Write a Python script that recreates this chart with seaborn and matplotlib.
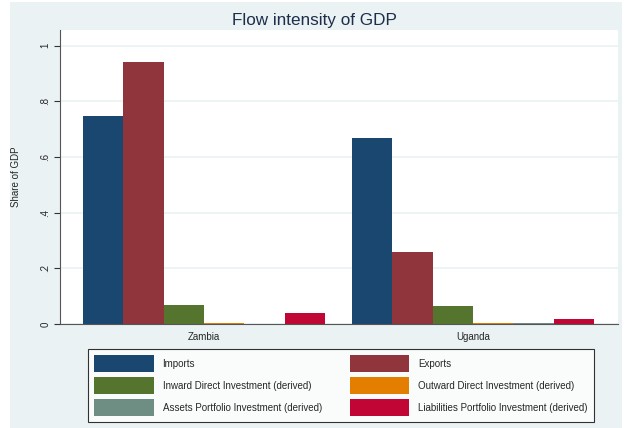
import numpy as np
import pandas as pd
import matplotlib
matplotlib.use("Agg")
import matplotlib.pyplot as plt
import seaborn as sns
from matplotlib.patches import Rectangle

countries = ["Zambia", "Uganda"]
series = ["Imports", "Exports",
          "Inward Direct Investment (derived)",
          "Outward Direct Investment (derived)",
          "Assets Portfolio Investment (derived)",
          "Liabilities Portfolio Investment (derived)"]
zambia = [0.747, 0.940, 0.067, 0.004, 0.001, 0.040]
uganda = [0.669, 0.257, 0.065, 0.002, 0.004, 0.018]
colors = ["#1a476f", "#90353b", "#55752f", "#e37e00", "#6e8e84", "#c10534"]
yticks = [0, 0.2, 0.4, 0.6, 0.8, 1.0]
ytick_labels = ["0", ".2", ".4", ".6", ".8", "1"]

df = pd.DataFrame({
    "country": np.repeat(countries, len(series)),
    "series": series * len(countries),
    "value": zambia + uganda,
})

sns.set_style("white")
plt.rcParams["font.family"] = ["Liberation Sans", "DejaVu Sans"]

bg = "#eaf2f3"
fig = plt.figure(figsize=(6.29, 4.28), dpi=100)
fig.patch.set_facecolor("white")
fig.patches.append(Rectangle((10 / 629, 0), 612 / 629, 426 / 428,
                             transform=fig.transFigure, facecolor=bg,
                             edgecolor="none", zorder=-10))

ax = fig.add_axes([60 / 629, 1 - 324 / 428, 558 / 629, 294 / 428])
ax.set_facecolor("white")

sns.barplot(data=df, x="country", y="value", hue="series", order=countries,
            hue_order=series, palette=colors, width=0.9, saturation=1,
            edgecolor=None, linewidth=0, ax=ax, legend=True)

ax.set_xlim(-0.535, 1.539)
ax.set_ylim(0, 1.056)
ax.set_yticks(yticks)
ax.set_yticklabels(ytick_labels, rotation=90, va="center", fontsize=7)
ax.yaxis.grid(True, color=bg, linewidth=1.2)
ax.set_axisbelow(True)
ax.tick_params(axis="y", length=4, width=0.8, color="#333333", pad=3, left=True)
ax.tick_params(axis="x", length=0, labelsize=7, pad=6)
for s in ["top", "right"]:
    ax.spines[s].set_visible(False)
ax.spines["left"].set_color("#555555")
ax.spines["bottom"].set_color("#555555")
ax.set_xlabel("")
ax.set_ylabel("Share of GDP", fontsize=7, labelpad=14)

fig.text(0.5, 1 - 25 / 428, "Flow intensity of GDP", ha="center",
         va="baseline", fontsize=12.3, color="#1e2d4a")

handles, labels = ax.get_legend_handles_labels()
ax.get_legend().remove()
# row-major order for a two-column legend
order = [0, 2, 4, 1, 3, 5]
leg = fig.legend([handles[i] for i in order], [labels[i] for i in order],
                 ncol=2, loc="upper center",
                 bbox_to_anchor=(341 / 629, 1 - 349 / 428), borderaxespad=0,
                 fontsize=7, frameon=True, fancybox=False, edgecolor="black",
                 handlelength=6.1, handleheight=2.31, handletextpad=0.9,
                 columnspacing=2.9, labelspacing=0.5, borderpad=0.65)
leg.get_frame().set_linewidth(0.8)

fig.savefig("out.png", dpi=100, facecolor=fig.get_facecolor())
